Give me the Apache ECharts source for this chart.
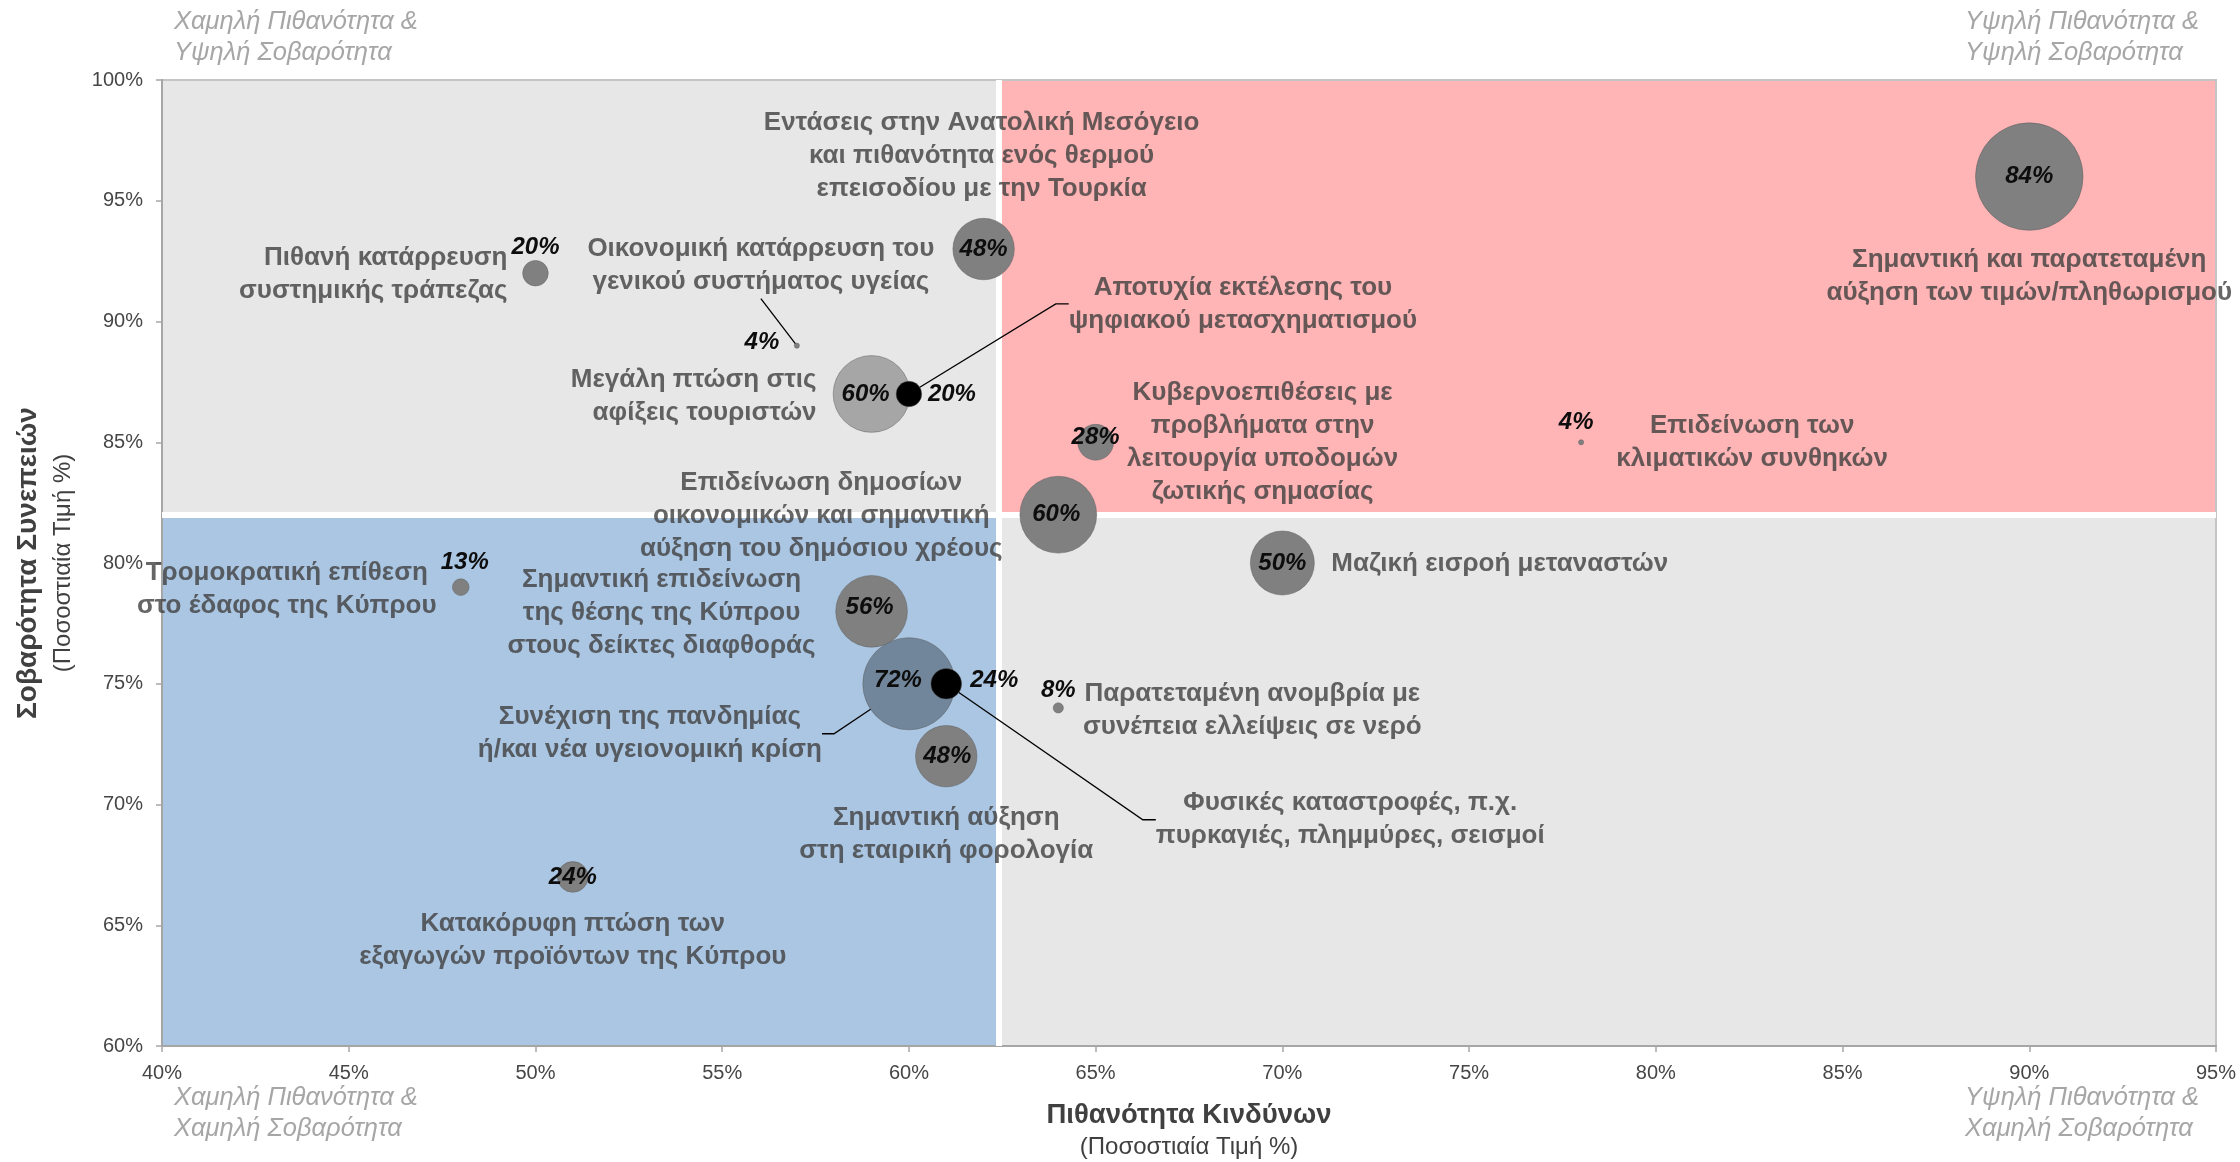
<!DOCTYPE html>
<html>
<head>
<meta charset="utf-8">
<title>Χάρτης Κινδύνων</title>
<script src="https://cdn.jsdelivr.net/npm/echarts@6.0.0/dist/echarts.min.js"></script>
<style>
html, body { margin: 0; padding: 0; background: #fff; }
#main { width: 2240px; height: 1162px; }
</style>
</head>
<body>
<div id="main"></div>
<script>
// κίνδυνοι: πιθανότητα (x), σοβαρότητα (y), βαθμός επίδρασης (μέγεθος)
var risks = [
    'Πιθανή κατάρρευση\nσυστημικής τράπεζας',
    'Οικονομική κατάρρευση του\nγενικού συστήματος υγείας',
    'Εντάσεις στην Ανατολική Μεσόγειο\nκαι πιθανότητα ενός θερμού\nεπεισοδίου με την Τουρκία',
    'Μεγάλη πτώση στις\nαφίξεις τουριστών',
    'Αποτυχία εκτέλεσης του\nψηφιακού μετασχηματισμού',
    'Κυβερνοεπιθέσεις με\nπροβλήματα στην\nλειτουργία υποδομών\nζωτικής σημασίας',
    'Επιδείνωση των\nκλιματικών συνθηκών',
    'Σημαντική και παρατεταμένη\nαύξηση των τιμών/πληθωρισμού',
    'Επιδείνωση δημοσίων\nοικονομικών και σημαντική\nαύξηση του δημόσιου χρέους',
    'Μαζική εισροή μεταναστών',
    'Τρομοκρατική επίθεση\nστο έδαφος της Κύπρου',
    'Συνέχιση της πανδημίας\nή/και νέα υγειονομική κρίση',
    'Σημαντική επιδείνωση\nτης θέσης της Κύπρου\nστους δείκτες διαφθοράς',
    'Φυσικές καταστροφές, π.χ.\nπυρκαγιές, πλημμύρες, σεισμοί',
    'Παρατεταμένη ανομβρία με\nσυνέπεια ελλείψεις σε νερό',
    'Σημαντική αύξηση\nστη εταιρική φορολογία',
    'Κατακόρυφη πτώση των\nεξαγωγών προϊόντων της Κύπρου'
];
var probability = [50, 57, 62, 59, 60, 65, 78, 90, 64, 70, 48, 60, 59, 61, 64, 61, 51];
var severity = [92, 89, 93, 87, 87, 85, 85, 96, 82, 80, 79, 75, 78, 75, 74, 72, 67];
var impact = [20, 4, 48, 60, 20, 28, 4, 84, 60, 50, 13, 72, 56, 24, 8, 48, 24];

var probAxis = [40, 95, 5];
var sevAxis = [60, 100, 5];
var splitProb = 62.4;
var splitSev = 82;

var cornerLabels = [
    'Χαμηλή Πιθανότητα &\nΥψηλή Σοβαρότητα',
    'Υψηλή Πιθανότητα &\nΥψηλή Σοβαρότητα',
    'Χαμηλή Πιθανότητα &\nΧαμηλή Σοβαρότητα',
    'Υψηλή Πιθανότητα &\nΧαμηλή Σοβαρότητα'
];

// εμφάνιση
var FONT = '"Liberation Sans", Arial, sans-serif';
var bubbleColors = { 3: '#a6a6a6', 4: '#000000', 11: '#71869b', 13: '#000000' };
var valueOffset = [
    [0, -26], [-35, -3], [0, 0], [-6, 0], [43, 0], [0, -5], [-5, -20], [0, 0], [-2, 0],
    [0, 0], [4, -25], [-11, -3], [-2, -4], [48, -3], [0, -18], [1, 0], [0, 0]
];
var nameLayout = [
    [-28, 1, 'right'], [-36, -80, 'center'], [-2, -93, 'center'], [-55, 2, 'right'],
    [334, -90, 'center'], [167, 0, 'center'], [171, 0, 'center'], [0, 100, 'center'],
    [-237, 1, 'center'], [49, 1, 'left'], [-174, 2, 'center'], [-259, 50, 'center'],
    [-210, 2, 'center'], [404, 136, 'center'], [194, 2, 'center'], [0, 78, 'center'],
    [0, 63, 'center']
];
var leaders = { 1: 0, 4: 13, 11: 12, 13: 13 };

var bubbleData = probability.map(function (p, i) {
    return {
        value: [p, severity[i], impact[i]],
        itemStyle: { color: bubbleColors[i] || '#808080' },
        label: { offset: valueOffset[i] }
    };
});
var nameData = probability.map(function (p, i) {
    var item = {
        value: [p, severity[i], impact[i]],
        label: { align: nameLayout[i][2] }
    };
    if (leaders[i] !== undefined) {
        item.labelLine = { show: true, length2: leaders[i] };
    }
    return item;
});

function bubbleSize(val) {
    return val[2] * 1.28;
}

function corner(text, pos, align) {
    var el = {
        type: 'text',
        silent: true,
        style: {
            text: text,
            fill: '#a6a6a6',
            font: 'italic 25.5px ' + FONT,
            lineHeight: 31,
            align: align
        }
    };
    for (var k in pos) el[k] = pos[k];
    return el;
}

var dom = document.getElementById('main');
var myChart = echarts.init(dom);
var option = {
    animation: false,
    backgroundColor: '#fff',
    textStyle: { fontFamily: FONT },
    grid: {
        left: 162, right: 24, top: 80, bottom: 116,
        show: true, borderColor: '#c4c4c4', borderWidth: 2, z: 3,
        outerBoundsMode: 'none'
    },
    graphic: [
        corner(cornerLabels[0], { left: 174, top: 6 }, 'left'),
        corner(cornerLabels[1], { right: 41, top: 6 }, 'right'),
        corner(cornerLabels[2], { left: 174, top: 1082 }, 'left'),
        corner(cornerLabels[3], { right: 41, top: 1082 }, 'right')
    ],
    xAxis: {
        type: 'value',
        min: probAxis[0], max: probAxis[1], interval: probAxis[2],
        z: 4,
        splitLine: { show: false },
        axisLine: { lineStyle: { color: '#a6a6a6', width: 2 } },
        axisTick: { show: true, length: 6, lineStyle: { color: '#a6a6a6', width: 1.5 } },
        axisLabel: { formatter: '{value}%', color: '#464646', fontSize: 20, margin: 17 },
        name: '{a|Πιθανότητα Κινδύνων}\n{b|(Ποσοστιαία Τιμή %)}',
        nameLocation: 'middle',
        nameGap: 52,
        nameMoveOverlap: false,
        nameTextStyle: {
            align: 'center',
            rich: {
                a: { fontSize: 27.5, fontWeight: 'bold', color: '#404040', lineHeight: 34, fontFamily: FONT },
                b: { fontSize: 24, color: '#404040', lineHeight: 30, fontFamily: FONT }
            }
        }
    },
    yAxis: {
        type: 'value',
        min: sevAxis[0], max: sevAxis[1], interval: sevAxis[2],
        z: 4,
        splitLine: { show: false },
        axisLine: { show: true, lineStyle: { color: '#a6a6a6', width: 2 } },
        axisTick: { show: true, length: 6, lineStyle: { color: '#a6a6a6', width: 1.5 } },
        axisLabel: { formatter: '{value}%', color: '#464646', fontSize: 20, margin: 19 },
        name: '{a|Σοβαρότητα Συνεπειών}\n{b|(Ποσοστιαία Τιμή %)}',
        nameLocation: 'middle',
        nameGap: 83,
        nameMoveOverlap: false,
        nameTextStyle: {
            align: 'center',
            rich: {
                a: { fontSize: 28, fontWeight: 'bold', color: '#404040', lineHeight: 38, fontFamily: FONT },
                b: { fontSize: 24, color: '#404040', lineHeight: 32, fontFamily: FONT }
            }
        }
    },
    series: [
        {
            // τεταρτημόρια
            type: 'scatter',
            data: [],
            silent: true,
            markArea: {
                silent: true,
                data: [
                    [{ xAxis: probAxis[0], yAxis: sevAxis[0], itemStyle: { color: '#abc6e2' } }, { xAxis: splitProb, yAxis: splitSev }],
                    [{ xAxis: splitProb, yAxis: sevAxis[0], itemStyle: { color: '#e7e7e7' } }, { xAxis: probAxis[1], yAxis: splitSev }],
                    [{ xAxis: probAxis[0], yAxis: splitSev, itemStyle: { color: '#e7e7e7' } }, { xAxis: splitProb, yAxis: sevAxis[1] }],
                    [{ xAxis: splitProb, yAxis: splitSev, itemStyle: { color: '#ffb4b6' } }, { xAxis: probAxis[1], yAxis: sevAxis[1] }]
                ]
            },
            markLine: {
                silent: true,
                symbol: 'none',
                label: { show: false },
                lineStyle: { color: '#ffffff', width: 6, type: 'solid' },
                data: [{ xAxis: splitProb }, { yAxis: splitSev }]
            }
        },
        {
            type: 'scatter',
            z: 10,
            data: bubbleData,
            symbolSize: bubbleSize,
            emphasis: { disabled: true },
            itemStyle: { borderColor: 'rgba(90,90,90,0.45)', borderWidth: 1, opacity: 1 },
            label: {
                show: true,
                position: 'inside',
                formatter: function (p) { return impact[p.dataIndex] + '%'; },
                color: '#0d0d0d',
                fontStyle: 'italic',
                fontWeight: 'bold',
                fontSize: 24,
                fontFamily: FONT
            }
        },
        {
            type: 'scatter',
            z: 11,
            data: nameData,
            symbolSize: bubbleSize,
            silent: true,
            emphasis: { disabled: true },
            itemStyle: { color: 'rgba(0,0,0,0)' },
            label: {
                show: true,
                position: 'inside',
                formatter: function (p) { return risks[p.dataIndex]; },
                color: '#404040',
                fontSize: 26,
                fontWeight: 'bold',
                lineHeight: 33,
                fontFamily: FONT
            },
            labelLayout: function (params) {
                var l = nameLayout[params.dataIndex];
                return { dx: l[0], dy: l[1] };
            },
            labelLine: {
                show: false,
                lineStyle: { color: '#000000', width: 1.3 }
            }
        }
    ]
};

myChart.setOption(option);
</script>
</body>
</html>
